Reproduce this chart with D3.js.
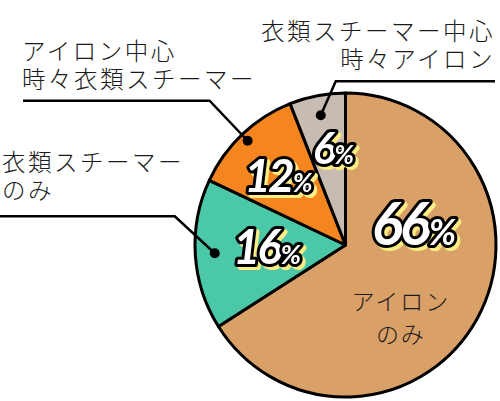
<!DOCTYPE html>
<html>
<head>
<meta charset="utf-8">
<script src="https://cdn.jsdelivr.net/npm/d3@7"></script>
<style>
  body { margin: 0; background: #fff; }
  svg { display: block; }
  .jp { font-family: "Noto Sans CJK JP", "Noto Sans", sans-serif; font-weight: 300; fill: #1a1a1a; }
  .pct { font-family: Lato, "Open Sans", sans-serif; font-weight: 700; font-style: italic;
         filter: drop-shadow(3px 3px 0 #fbec84); }
</style>
</head>
<body>
<svg width="500" height="401"></svg>
<script>
// data, clockwise from 12 o'clock
const categories = ["アイロンのみ", "衣類スチーマーのみ", "アイロン中心時々衣類スチーマー", "衣類スチーマー中心時々アイロン"];
const values = [66, 16, 12, 6];
const labelLines = [["アイロン", "のみ"], ["衣類スチーマー", "のみ"], ["アイロン中心", "時々衣類スチーマー"], ["衣類スチーマー中心", "時々アイロン"]];
const colors = ["#d9a068", "#4ac8a8", "#f5861f", "#c8bbb1"];

const svg = d3.select("svg"),
      cx = 345.5, cy = 245, r = 150.5

const g = svg.append("g").attr("transform", "translate(" + cx + "," + cy + ") scale(1,1.01)");

const pie = d3.pie().sort(null).value(d => d);
const arcs = pie(values);
const arc = d3.arc().innerRadius(0).outerRadius(r);

g.selectAll("path.slice")
  .data(arcs)
  .enter()
  .append("path")
  .attr("class", "slice")
  .attr("d", arc)
  .attr("fill", (d, i) => colors[i])
  .attr("stroke", "#000")
  .attr("stroke-width", 3)
  .attr("stroke-linejoin", "round");

// percentage labels: [angle deg, radius, digit size, percent size]
const pctPos = [[73, 70, 58, 36], [268.5, 80, 47, 27], [315, 97, 46, 26], [352, 97, 44, 26]];
const mid = d => (d.startAngle + d.endAngle) / 2;

arcs.forEach((d, i) => {
  const p = d3.pointRadial(pctPos[i][0] * Math.PI / 180, pctPos[i][1]);
  const t = g.append("text")
    .attr("class", "pct")
    .attr("x", p[0])
    .attr("y", p[1] + pctPos[i][2] * 0.36)
    .attr("text-anchor", "middle")
    .attr("fill", "#fff")
    .attr("stroke", "#000")
    .attr("stroke-width", 6)
    .attr("stroke-linejoin", "round")
    .attr("paint-order", "stroke")
    .attr("letter-spacing", -3);
  t.append("tspan").attr("font-size", pctPos[i][2]).text(values[i]);
  t.append("tspan").attr("font-size", pctPos[i][3]).attr("dx", 1).text("%");
});

// two-line label as one text element
function twoLines(parent, lines, x, y, anchor, size, spacing, lead) {
  const t = parent.append("text").attr("class", "jp")
    .attr("text-anchor", anchor)
    .attr("font-size", size)
    .attr("letter-spacing", spacing);
  lines.forEach((s, k) => {
    t.append("tspan").attr("x", x).attr("y", y + k * lead).text(s);
  });
}

// inside label for the big slice
const inPos = d3.pointRadial(141 * Math.PI / 180, 88);
twoLines(g, labelLines[0], inPos[0], inPos[1] - 4, "middle", 23, 2, 33);

// callouts: dot radius, elbow offset, line end x, text x, anchor, first baseline
const callouts = [
  null,
  { dr: 131, ex: -40, ey: -37, lx: 0, tx: 2, anchor: "start", ty: 170.5 },
  { dr: 143, ex: -38, ey: -40, lx: 23, tx: 22, anchor: "start", ty: 59.5 },
  { dr: 132, ex: 15, ey: -34, lx: 495, tx: 495, anchor: "end", ty: 39.5 }
];

callouts.forEach((c, i) => {
  if (!c) return;
  const p = d3.pointRadial(mid(arcs[i]), c.dr);
  const dot = [cx + p[0], cy + p[1]];
  const elbow = [dot[0] + c.ex, dot[1] + c.ey];
  svg.append("path")
    .attr("d", d3.line()([dot, elbow, [c.lx, elbow[1]]]))
    .attr("fill", "none")
    .attr("stroke", "#000")
    .attr("stroke-width", 2.5);
  svg.append("circle").attr("cx", dot[0]).attr("cy", dot[1]).attr("r", 5).attr("fill", "#000");
  twoLines(svg, labelLines[i], c.tx, c.ty, c.anchor, 23.5, 2.5, 28);
});
</script>
</body>
</html>
